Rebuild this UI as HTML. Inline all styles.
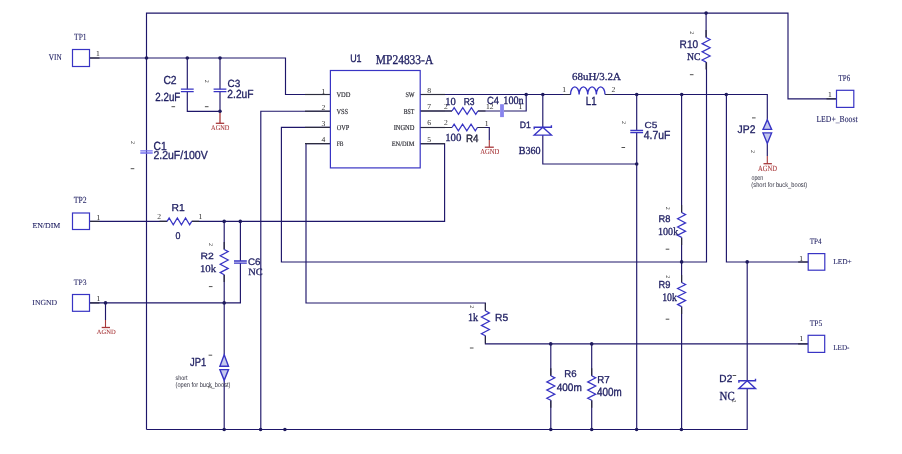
<!DOCTYPE html>
<html><head><meta charset="utf-8"><style>
html,body{margin:0;padding:0;background:#ffffff;overflow:hidden;}
svg{display:block;will-change:transform;text-rendering:geometricPrecision;}
</style></head><body>
<svg width="902" height="454" viewBox="0 0 902 454">
<rect width="902" height="454" fill="#ffffff"/>
<path d="M146.5,429.5V13.1H788V98.8H836.5" fill="none" stroke="#1e166a" stroke-width="1.15" stroke-linecap="butt" stroke-linejoin="miter"/>
<path d="M146.5,429.5H747.2V388.5" fill="none" stroke="#1e166a" stroke-width="1.15" stroke-linecap="butt" stroke-linejoin="miter"/>
<path d="M89.5,58H285.5V94.5H330.4" fill="none" stroke="#1e166a" stroke-width="1.15" stroke-linecap="butt" stroke-linejoin="miter"/>
<path d="M187.3,58V89.2M187.3,91.7V111.3H220" fill="none" stroke="#1e166a" stroke-width="1.15" stroke-linecap="butt" stroke-linejoin="miter"/>
<path d="M220,58V89.2M220,91.7V111.3" fill="none" stroke="#1e166a" stroke-width="1.15" stroke-linecap="butt" stroke-linejoin="miter"/>
<path d="M220,111.3V123.3" fill="none" stroke="#a8383a" stroke-width="1.3" stroke-linecap="butt" stroke-linejoin="miter"/>
<path d="M215.8,123.3H224.2" fill="none" stroke="#a8383a" stroke-width="1.3" stroke-linecap="butt" stroke-linejoin="miter"/>
<path d="M330.4,111.2H260.8V429.5" fill="none" stroke="#1e166a" stroke-width="1.15" stroke-linecap="butt" stroke-linejoin="miter"/>
<path d="M330.4,127.4H281.4V262H706.5V62.2M706.1,37.5V13.1" fill="none" stroke="#1e166a" stroke-width="1.15" stroke-linecap="butt" stroke-linejoin="miter"/>
<path d="M330.4,143.6H306V303H485.4V310.8M485.4,335.8V343.9H808.1" fill="none" stroke="#1e166a" stroke-width="1.15" stroke-linecap="butt" stroke-linejoin="miter"/>
<path d="M420.2,143.7H444.6V221.4H191.7M167.1,221.4H89.5" fill="none" stroke="#1e166a" stroke-width="1.15" stroke-linecap="butt" stroke-linejoin="miter"/>
<path d="M224.2,221.4V249.5M224.2,274.7V354.7M224.2,380.3V429.5" fill="none" stroke="#1e166a" stroke-width="1.15" stroke-linecap="butt" stroke-linejoin="miter"/>
<path d="M240.4,221.4V261M240.4,263.1V302.9H89.5" fill="none" stroke="#1e166a" stroke-width="1.15" stroke-linecap="butt" stroke-linejoin="miter"/>
<path d="M105.5,302.9V320" fill="none" stroke="#1e166a" stroke-width="1.15" stroke-linecap="butt" stroke-linejoin="miter"/>
<path d="M105.5,320V327.5" fill="none" stroke="#a8383a" stroke-width="1.1" stroke-linecap="butt" stroke-linejoin="miter"/>
<path d="M101.7,327.5H110" fill="none" stroke="#a8383a" stroke-width="1.3" stroke-linecap="butt" stroke-linejoin="miter"/>
<path d="M420.2,94.5H570.5M605,94.5H767.3V119.7" fill="none" stroke="#1e166a" stroke-width="1.15" stroke-linecap="butt" stroke-linejoin="miter"/>
<path d="M420.2,111H452M477.9,111H500M504,111H526.2V94.5" fill="none" stroke="#1e166a" stroke-width="1.15" stroke-linecap="butt" stroke-linejoin="miter"/>
<path d="M420.2,127.5H452M477.4,127.5H489.3V140" fill="none" stroke="#1e166a" stroke-width="1.15" stroke-linecap="butt" stroke-linejoin="miter"/>
<path d="M489.3,140V147.2" fill="none" stroke="#a8383a" stroke-width="1.1" stroke-linecap="butt" stroke-linejoin="miter"/>
<path d="M484.8,147.2H493.8" fill="none" stroke="#a8383a" stroke-width="1.3" stroke-linecap="butt" stroke-linejoin="miter"/>
<path d="M542.8,94.5V127.2M542.8,135.1V164H636.7" fill="none" stroke="#1e166a" stroke-width="1.15" stroke-linecap="butt" stroke-linejoin="miter"/>
<path d="M636.7,94.5V130.3M636.7,132.5V429.5" fill="none" stroke="#1e166a" stroke-width="1.15" stroke-linecap="butt" stroke-linejoin="miter"/>
<path d="M681.6,94.5V212.5M681.6,237.4V282.5M681.6,306.6V429.5" fill="none" stroke="#1e166a" stroke-width="1.15" stroke-linecap="butt" stroke-linejoin="miter"/>
<path d="M726.4,94.5V262H808.2" fill="none" stroke="#1e166a" stroke-width="1.15" stroke-linecap="butt" stroke-linejoin="miter"/>
<path d="M747.2,262V380.8" fill="none" stroke="#1e166a" stroke-width="1.15" stroke-linecap="butt" stroke-linejoin="miter"/>
<path d="M767.3,143.5V156" fill="none" stroke="#1e166a" stroke-width="1.15" stroke-linecap="butt" stroke-linejoin="miter"/>
<path d="M767.3,156V163.7" fill="none" stroke="#a8383a" stroke-width="1.1" stroke-linecap="butt" stroke-linejoin="miter"/>
<path d="M763.5,163.7H771.9" fill="none" stroke="#a8383a" stroke-width="1.3" stroke-linecap="butt" stroke-linejoin="miter"/>
<path d="M550.8,343.9V375.8M550.8,400.3V429.5" fill="none" stroke="#1e166a" stroke-width="1.15" stroke-linecap="butt" stroke-linejoin="miter"/>
<path d="M591.7,343.9V375.8M591.7,400.3V429.5" fill="none" stroke="#1e166a" stroke-width="1.15" stroke-linecap="butt" stroke-linejoin="miter"/>
<path d="M305,94.5H330.4" fill="none" stroke="#2b2b3e" stroke-width="1.15" stroke-linecap="butt" stroke-linejoin="miter"/>
<path d="M305,111.2H330.4" fill="none" stroke="#2b2b3e" stroke-width="1.15" stroke-linecap="butt" stroke-linejoin="miter"/>
<path d="M305,127.4H330.4" fill="none" stroke="#2b2b3e" stroke-width="1.15" stroke-linecap="butt" stroke-linejoin="miter"/>
<path d="M305,143.6H330.4" fill="none" stroke="#2b2b3e" stroke-width="1.15" stroke-linecap="butt" stroke-linejoin="miter"/>
<path d="M420.2,94.5H445" fill="none" stroke="#2b2b3e" stroke-width="1.15" stroke-linecap="butt" stroke-linejoin="miter"/>
<path d="M420.2,111H445" fill="none" stroke="#2b2b3e" stroke-width="1.15" stroke-linecap="butt" stroke-linejoin="miter"/>
<path d="M420.2,127.5H445" fill="none" stroke="#2b2b3e" stroke-width="1.15" stroke-linecap="butt" stroke-linejoin="miter"/>
<path d="M420.2,143.7H445" fill="none" stroke="#2b2b3e" stroke-width="1.15" stroke-linecap="butt" stroke-linejoin="miter"/>
<path d="M445,111H452M477.9,111H485.5M445,127.5H452M477.4,127.5H485" fill="none" stroke="#2b2b3e" stroke-width="1.15" stroke-linecap="butt" stroke-linejoin="miter"/>
<path d="M159.6,221.4H167.1M191.7,221.4H199.2" fill="none" stroke="#2b2b3e" stroke-width="1.15" stroke-linecap="butt" stroke-linejoin="miter"/>
<path d="M706.1,30V37.5" fill="none" stroke="#2b2b3e" stroke-width="1.15" stroke-linecap="butt" stroke-linejoin="miter"/>
<path d="M706.1,62.1V69.6" fill="none" stroke="#2b2b3e" stroke-width="1.15" stroke-linecap="butt" stroke-linejoin="miter"/>
<path d="M681.6,205V212.5" fill="none" stroke="#2b2b3e" stroke-width="1.15" stroke-linecap="butt" stroke-linejoin="miter"/>
<path d="M681.6,237.4V245" fill="none" stroke="#2b2b3e" stroke-width="1.15" stroke-linecap="butt" stroke-linejoin="miter"/>
<path d="M681.6,275V282.5" fill="none" stroke="#2b2b3e" stroke-width="1.15" stroke-linecap="butt" stroke-linejoin="miter"/>
<path d="M681.6,306.6V314" fill="none" stroke="#2b2b3e" stroke-width="1.15" stroke-linecap="butt" stroke-linejoin="miter"/>
<path d="M224.2,242V249.5" fill="none" stroke="#2b2b3e" stroke-width="1.15" stroke-linecap="butt" stroke-linejoin="miter"/>
<path d="M224.2,274.7V282" fill="none" stroke="#2b2b3e" stroke-width="1.15" stroke-linecap="butt" stroke-linejoin="miter"/>
<path d="M485.4,303.3V310.8" fill="none" stroke="#2b2b3e" stroke-width="1.15" stroke-linecap="butt" stroke-linejoin="miter"/>
<path d="M485.4,335.8V343.5" fill="none" stroke="#2b2b3e" stroke-width="1.15" stroke-linecap="butt" stroke-linejoin="miter"/>
<path d="M550.8,368.3V375.8" fill="none" stroke="#2b2b3e" stroke-width="1.15" stroke-linecap="butt" stroke-linejoin="miter"/>
<path d="M550.8,400.3V407.8" fill="none" stroke="#2b2b3e" stroke-width="1.15" stroke-linecap="butt" stroke-linejoin="miter"/>
<path d="M591.7,368.3V375.8" fill="none" stroke="#2b2b3e" stroke-width="1.15" stroke-linecap="butt" stroke-linejoin="miter"/>
<path d="M591.7,400.3V407.8" fill="none" stroke="#2b2b3e" stroke-width="1.15" stroke-linecap="butt" stroke-linejoin="miter"/>
<path d="M89.5,58H99.5" fill="none" stroke="#2b2b3e" stroke-width="1.15" stroke-linecap="butt" stroke-linejoin="miter"/>
<path d="M89.5,221.4H99.5" fill="none" stroke="#2b2b3e" stroke-width="1.15" stroke-linecap="butt" stroke-linejoin="miter"/>
<path d="M89.5,302.9H99.5" fill="none" stroke="#2b2b3e" stroke-width="1.15" stroke-linecap="butt" stroke-linejoin="miter"/>
<path d="M826.5,98.8H836.5" fill="none" stroke="#2b2b3e" stroke-width="1.15" stroke-linecap="butt" stroke-linejoin="miter"/>
<path d="M798.2,262H808.2" fill="none" stroke="#2b2b3e" stroke-width="1.15" stroke-linecap="butt" stroke-linejoin="miter"/>
<path d="M798.1,343.9H808.1" fill="none" stroke="#2b2b3e" stroke-width="1.15" stroke-linecap="butt" stroke-linejoin="miter"/>
<path d="M563,94.5H570.5M605,94.5H612.5" fill="none" stroke="#2b2b3e" stroke-width="1.15" stroke-linecap="butt" stroke-linejoin="miter"/>
<rect x="72.5" y="49.5" width="17.0" height="17.0" fill="none" stroke="#3834c4" stroke-width="1.2"/>
<rect x="72.5" y="213" width="17.0" height="16.5" fill="none" stroke="#3834c4" stroke-width="1.2"/>
<rect x="72.5" y="294.5" width="17.0" height="16.80000000000001" fill="none" stroke="#3834c4" stroke-width="1.2"/>
<rect x="836.5" y="90.3" width="17.299999999999955" height="17.10000000000001" fill="none" stroke="#3834c4" stroke-width="1.2"/>
<rect x="808.2" y="253.6" width="16.59999999999991" height="16.599999999999994" fill="none" stroke="#3834c4" stroke-width="1.2"/>
<rect x="808.1" y="335.3" width="16.600000000000023" height="17.099999999999966" fill="none" stroke="#3834c4" stroke-width="1.2"/>
<rect x="330.4" y="70.5" width="89.80000000000001" height="97.4" fill="none" stroke="#3834c4" stroke-width="1.2"/>
<path d="M180.9,89.2H193.70000000000002M180.9,91.7H193.70000000000002" fill="none" stroke="#3834c4" stroke-width="1.3" stroke-linecap="butt" stroke-linejoin="miter"/>
<path d="M213.6,89.2H226.4M213.6,91.7H226.4" fill="none" stroke="#3834c4" stroke-width="1.3" stroke-linecap="butt" stroke-linejoin="miter"/>
<path d="M140.3,150.8H152.7M140.3,153H152.7" fill="none" stroke="#7470f0" stroke-width="1.3" stroke-linecap="butt" stroke-linejoin="miter"/>
<path d="M234.0,261H246.8M234.0,263.1H246.8" fill="none" stroke="#3834c4" stroke-width="1.3" stroke-linecap="butt" stroke-linejoin="miter"/>
<path d="M630.3000000000001,130.3H643.1M630.3000000000001,132.5H643.1" fill="none" stroke="#3834c4" stroke-width="1.3" stroke-linecap="butt" stroke-linejoin="miter"/>
<rect x="500.1" y="104.2" width="3.8" height="12.9" fill="#8884ee"/>
<polyline points="167.10,221.40 169.15,218.00 173.25,224.80 177.35,218.00 181.45,224.80 185.55,218.00 189.65,224.80 191.70,221.40" fill="none" stroke="#3834c4" stroke-width="1.25" stroke-linejoin="miter"/>
<polyline points="452.00,111.00 454.16,107.60 458.48,114.40 462.79,107.60 467.11,114.40 471.43,107.60 475.74,114.40 477.90,111.00" fill="none" stroke="#3834c4" stroke-width="1.25" stroke-linejoin="miter"/>
<polyline points="452.00,127.50 454.12,124.10 458.35,130.90 462.58,124.10 466.82,130.90 471.05,124.10 475.28,130.90 477.40,127.50" fill="none" stroke="#3834c4" stroke-width="1.25" stroke-linejoin="miter"/>
<polyline points="706.10,37.50 710.10,39.55 702.10,43.65 710.10,47.75 702.10,51.85 710.10,55.95 702.10,60.05 706.10,62.10" fill="none" stroke="#3834c4" stroke-width="1.25" stroke-linejoin="miter"/>
<polyline points="681.60,212.50 685.60,214.57 677.60,218.72 685.60,222.88 677.60,227.02 685.60,231.17 677.60,235.32 681.60,237.40" fill="none" stroke="#3834c4" stroke-width="1.25" stroke-linejoin="miter"/>
<polyline points="681.60,282.50 685.60,284.51 677.60,288.52 685.60,292.54 677.60,296.56 685.60,300.57 677.60,304.59 681.60,306.60" fill="none" stroke="#3834c4" stroke-width="1.25" stroke-linejoin="miter"/>
<polyline points="224.20,249.50 228.20,251.60 220.20,255.80 228.20,260.00 220.20,264.20 228.20,268.40 220.20,272.60 224.20,274.70" fill="none" stroke="#3834c4" stroke-width="1.25" stroke-linejoin="miter"/>
<polyline points="485.40,310.80 489.40,312.88 481.40,317.05 489.40,321.22 481.40,325.38 489.40,329.55 481.40,333.72 485.40,335.80" fill="none" stroke="#3834c4" stroke-width="1.25" stroke-linejoin="miter"/>
<polyline points="550.80,375.80 554.80,377.84 546.80,381.93 554.80,386.01 546.80,390.09 554.80,394.18 546.80,398.26 550.80,400.30" fill="none" stroke="#3834c4" stroke-width="1.25" stroke-linejoin="miter"/>
<polyline points="591.70,375.80 595.70,377.84 587.70,381.93 595.70,386.01 587.70,390.09 595.70,394.18 587.70,398.26 591.70,400.30" fill="none" stroke="#3834c4" stroke-width="1.25" stroke-linejoin="miter"/>
<path d="M570.5,94.5 a4.312,7.60 0 0 1 8.625,0 a4.312,7.60 0 0 1 8.625,0 a4.312,7.60 0 0 1 8.625,0 a4.312,7.60 0 0 1 8.625,0" fill="none" stroke="#3834c4" stroke-width="1.4" stroke-linecap="butt" stroke-linejoin="miter"/>
<path d="M542.8,127.2 L534.1999999999999,135.1 H551.4 Z" fill="none" stroke="#3834c4" stroke-width="1.4" stroke-linejoin="miter"/>
<path d="M534.1999999999999,129.2V127.2H551.4V125.2" fill="none" stroke="#3834c4" stroke-width="1.4" stroke-linecap="butt" stroke-linejoin="miter"/>
<path d="M747.2,380.8 L738.9000000000001,388.5 H755.5 Z" fill="none" stroke="#3834c4" stroke-width="1.4" stroke-linejoin="miter"/>
<path d="M738.9000000000001,382.8V380.8H755.5V378.8" fill="none" stroke="#3834c4" stroke-width="1.4" stroke-linecap="butt" stroke-linejoin="miter"/>
<path d="M224.2,354.7 L219.89999999999998,366.3 H228.5 Z" fill="#c4c8ee" stroke="#3834c4" stroke-width="1.4"/>
<path d="M219.89999999999998,369.6 H228.5 L224.2,380.3 Z" fill="#c4c8ee" stroke="#3834c4" stroke-width="1.4"/>
<path d="M767.3,119.7 L763.0,129.4 H771.5999999999999 Z" fill="#c4c8ee" stroke="#3834c4" stroke-width="1.4"/>
<path d="M763.0,132.9 H771.5999999999999 L767.3,143.5 Z" fill="#c4c8ee" stroke="#3834c4" stroke-width="1.4"/>
<circle cx="146.5" cy="58" r="1.8" fill="#1e1a5e"/>
<circle cx="187.3" cy="58" r="1.8" fill="#1e1a5e"/>
<circle cx="220" cy="58" r="1.8" fill="#1e1a5e"/>
<circle cx="220" cy="111.3" r="1.8" fill="#1e1a5e"/>
<circle cx="105.5" cy="302.9" r="1.8" fill="#1e1a5e"/>
<circle cx="224.2" cy="221.4" r="1.8" fill="#1e1a5e"/>
<circle cx="240.3" cy="221.4" r="1.8" fill="#1e1a5e"/>
<circle cx="224.2" cy="302.9" r="1.8" fill="#1e1a5e"/>
<circle cx="224.2" cy="429.5" r="1.8" fill="#1e1a5e"/>
<circle cx="260.6" cy="429.5" r="1.8" fill="#1e1a5e"/>
<circle cx="284.9" cy="429.5" r="1.8" fill="#1e1a5e"/>
<circle cx="526.2" cy="94.5" r="1.8" fill="#1e1a5e"/>
<circle cx="542.8" cy="94.5" r="1.8" fill="#1e1a5e"/>
<circle cx="636.7" cy="94.5" r="1.8" fill="#1e1a5e"/>
<circle cx="681.7" cy="94.5" r="1.8" fill="#1e1a5e"/>
<circle cx="726.3" cy="94.5" r="1.8" fill="#1e1a5e"/>
<circle cx="706.1" cy="13.1" r="1.8" fill="#1e1a5e"/>
<circle cx="636.7" cy="164" r="1.8" fill="#1e1a5e"/>
<circle cx="681.6" cy="261.9" r="1.8" fill="#1e1a5e"/>
<circle cx="747.2" cy="261.9" r="1.8" fill="#1e1a5e"/>
<circle cx="550.7" cy="343.9" r="1.8" fill="#1e1a5e"/>
<circle cx="591.7" cy="343.9" r="1.8" fill="#1e1a5e"/>
<circle cx="550.8" cy="429.5" r="1.8" fill="#1e1a5e"/>
<circle cx="591.7" cy="429.5" r="1.8" fill="#1e1a5e"/>
<circle cx="636.6" cy="429.5" r="1.8" fill="#1e1a5e"/>
<circle cx="681.4" cy="429.5" r="1.8" fill="#1e1a5e"/>
<text id="t0" transform="translate(350.13,62.40) scale(0.828,1)" font-family='"Liberation Sans", sans-serif' font-size="10.77" fill="#1f1f62" stroke="#1f1f62" stroke-width="0.362">U1</text>
<text id="t1" transform="translate(375.85,64.10) scale(0.855,1)" font-family='"Liberation Serif", serif' font-size="13.41" fill="#1f1f62" stroke="#1f1f62" stroke-width="0.351">MP24833-A</text>
<text id="t2" transform="translate(163.38,84.10) scale(0.885,1)" font-family='"Liberation Sans", sans-serif' font-size="11.69" fill="#1f1f62" stroke="#1f1f62" stroke-width="0.339">C2</text>
<text id="t3" transform="translate(155.36,100.70) scale(0.822,1)" font-family='"Liberation Sans", sans-serif' font-size="11.89" fill="#1f1f62" stroke="#1f1f62" stroke-width="0.365">2.2uF</text>
<text id="t4" transform="translate(227.58,87.40) scale(0.966,1)" font-family='"Liberation Sans", sans-serif' font-size="10.39" fill="#1f1f62" stroke="#1f1f62" stroke-width="0.310">C3</text>
<text id="t5" transform="translate(227.34,97.90) scale(0.873,1)" font-family='"Liberation Sans", sans-serif' font-size="11.75" fill="#1f1f62" stroke="#1f1f62" stroke-width="0.344">2.2uF</text>
<text id="t6" transform="translate(153.44,149.60) scale(0.872,1)" font-family='"Liberation Sans", sans-serif' font-size="11.82" fill="#1f1f62" stroke="#1f1f62" stroke-width="0.344">C1</text>
<text id="t7" transform="translate(153.40,159.10) scale(0.903,1)" font-family='"Liberation Sans", sans-serif' font-size="11.63" fill="#1f1f62" stroke="#1f1f62" stroke-width="0.332">2.2uF/100V</text>
<text id="t8" transform="translate(171.43,211.20) scale(1.023,1)" font-family='"Liberation Sans", sans-serif' font-size="10.08" fill="#1f1f62" stroke="#1f1f62" stroke-width="0.293">R1</text>
<text id="t9" transform="translate(175.44,239.10) scale(0.898,1)" font-family='"Liberation Sans", sans-serif' font-size="9.89" fill="#1f1f62" stroke="#1f1f62" stroke-width="0.334">0</text>
<text id="t10" transform="translate(200.41,259.40) scale(1.144,1)" font-family='"Liberation Sans", sans-serif' font-size="9.05" fill="#1f1f62" stroke="#1f1f62" stroke-width="0.262">R2</text>
<text id="t11" transform="translate(199.89,272.10) scale(1.034,1)" font-family='"Liberation Serif", serif' font-size="10.41" fill="#1f1f62" stroke="#1f1f62" stroke-width="0.290">10k</text>
<text id="t12" transform="translate(248.01,264.70) scale(1.031,1)" font-family='"Liberation Sans", sans-serif' font-size="9.50" fill="#1f1f62" stroke="#1f1f62" stroke-width="0.291">C6</text>
<text id="t13" transform="translate(248.22,274.60) scale(1.072,1)" font-family='"Liberation Serif", serif' font-size="9.71" fill="#1f1f62" stroke="#1f1f62" stroke-width="0.280">NC</text>
<text id="t14" transform="translate(190.03,365.90) scale(0.799,1)" font-family='"Liberation Sans", sans-serif' font-size="11.75" fill="#1f1f62" stroke="#1f1f62" stroke-width="0.375">JP1</text>
<text id="t15" transform="translate(463.63,104.90) scale(0.852,1)" font-family='"Liberation Sans", sans-serif' font-size="10.02" fill="#1f1f62" stroke="#1f1f62" stroke-width="0.352">R3</text>
<text id="t16" transform="translate(445.23,104.90) scale(0.983,1)" font-family='"Liberation Serif", serif' font-size="10.79" fill="#1f1f62" stroke="#1f1f62" stroke-width="0.305">10</text>
<text id="t17" transform="translate(487.03,104.40) scale(0.905,1)" font-family='"Liberation Sans", sans-serif' font-size="10.43" fill="#1f1f62" stroke="#1f1f62" stroke-width="0.331">C4</text>
<text id="t18" transform="translate(503.35,104.40) scale(0.895,1)" font-family='"Liberation Serif", serif' font-size="11.33" fill="#1f1f62" stroke="#1f1f62" stroke-width="0.335">100n</text>
<text id="t19" transform="translate(445.20,140.70) scale(0.996,1)" font-family='"Liberation Serif", serif' font-size="10.90" fill="#1f1f62" stroke="#1f1f62" stroke-width="0.301">100</text>
<text id="t20" transform="translate(466.00,141.70) scale(0.928,1)" font-family='"Liberation Sans", sans-serif' font-size="10.59" fill="#22223a" stroke="#22223a" stroke-width="0.323">R4</text>
<text id="t21" transform="translate(519.76,128.40) scale(0.930,1)" font-family='"Liberation Sans", sans-serif' font-size="9.35" fill="#1f1f62" stroke="#1f1f62" stroke-width="0.323">D1</text>
<text id="t22" transform="translate(518.68,154.20) scale(0.938,1)" font-family='"Liberation Serif", serif' font-size="10.75" fill="#1f1f62" stroke="#1f1f62" stroke-width="0.320">B360</text>
<text id="t23" transform="translate(572.01,80.20) scale(1.030,1)" font-family='"Liberation Serif", serif' font-size="10.62" fill="#1f1f62" stroke="#1f1f62" stroke-width="0.291">68uH/3.2A</text>
<text id="t24" transform="translate(585.81,104.60) scale(0.816,1)" font-family='"Liberation Sans", sans-serif' font-size="11.83" fill="#1f1f62" stroke="#1f1f62" stroke-width="0.368">L1</text>
<text id="t25" transform="translate(644.45,128.20) scale(1.147,1)" font-family='"Liberation Sans", sans-serif' font-size="8.79" fill="#1f1f62" stroke="#1f1f62" stroke-width="0.261">C5</text>
<text id="t26" transform="translate(643.74,138.50) scale(0.891,1)" font-family='"Liberation Sans", sans-serif' font-size="11.68" fill="#1f1f62" stroke="#1f1f62" stroke-width="0.337">4.7uF</text>
<text id="t27" transform="translate(737.62,132.80) scale(0.934,1)" font-family='"Liberation Sans", sans-serif' font-size="11.08" fill="#1f1f62" stroke="#1f1f62" stroke-width="0.321">JP2</text>
<text id="t28" transform="translate(679.59,47.90) scale(0.913,1)" font-family='"Liberation Sans", sans-serif' font-size="11.07" fill="#1f1f62" stroke="#1f1f62" stroke-width="0.328">R10</text>
<text id="t29" transform="translate(687.03,59.90) scale(0.956,1)" font-family='"Liberation Serif", serif' font-size="10.16" fill="#1f1f62" stroke="#1f1f62" stroke-width="0.314">NC</text>
<text id="t30" transform="translate(658.57,222.40) scale(0.953,1)" font-family='"Liberation Sans", sans-serif' font-size="9.72" fill="#1f1f62" stroke="#1f1f62" stroke-width="0.315">R8</text>
<text id="t31" transform="translate(658.04,234.90) scale(0.935,1)" font-family='"Liberation Serif", serif' font-size="10.77" fill="#1f1f62" stroke="#1f1f62" stroke-width="0.321">100k</text>
<text id="t32" transform="translate(658.57,288.20) scale(0.910,1)" font-family='"Liberation Sans", sans-serif' font-size="10.21" fill="#1f1f62" stroke="#1f1f62" stroke-width="0.330">R9</text>
<text id="t33" transform="translate(662.23,300.70) scale(0.863,1)" font-family='"Liberation Serif", serif' font-size="11.31" fill="#1f1f62" stroke="#1f1f62" stroke-width="0.348">10k</text>
<text id="t34" transform="translate(494.97,320.70) scale(1.000,1)" font-family='"Liberation Sans", sans-serif' font-size="10.27" fill="#1f1f62" stroke="#1f1f62" stroke-width="0.300">R5</text>
<text id="t35" transform="translate(467.98,321.20) scale(0.896,1)" font-family='"Liberation Serif", serif' font-size="11.31" fill="#1f1f62" stroke="#1f1f62" stroke-width="0.335">1k</text>
<text id="t36" transform="translate(564.22,377.40) scale(0.978,1)" font-family='"Liberation Sans", sans-serif' font-size="9.86" fill="#1f1f62" stroke="#1f1f62" stroke-width="0.307">R6</text>
<text id="t37" transform="translate(556.70,391.20) scale(0.938,1)" font-family='"Liberation Sans", sans-serif' font-size="10.71" fill="#1f1f62" stroke="#1f1f62" stroke-width="0.320">400m</text>
<text id="t38" transform="translate(597.27,382.90) scale(0.960,1)" font-family='"Liberation Sans", sans-serif' font-size="10.07" fill="#1f1f62" stroke="#1f1f62" stroke-width="0.313">R7</text>
<text id="t39" transform="translate(597.10,395.70) scale(0.827,1)" font-family='"Liberation Sans", sans-serif' font-size="11.93" fill="#1f1f62" stroke="#1f1f62" stroke-width="0.363">400m</text>
<text id="t40" transform="translate(719.37,381.90) scale(0.976,1)" font-family='"Liberation Sans", sans-serif' font-size="10.32" fill="#1f1f62" stroke="#1f1f62" stroke-width="0.307">D2</text>
<text id="t41" transform="translate(719.56,399.50) scale(0.883,1)" font-family='"Liberation Serif", serif' font-size="12.30" fill="#1f1f62" stroke="#1f1f62" stroke-width="0.340">NC</text>
<text id="t42" transform="translate(74.04,39.90) scale(0.795,1)" font-family='"Liberation Serif", serif' font-size="9.48" fill="#1f1f62" stroke="#1f1f62" stroke-width="0.101">TP1</text>
<text id="t43" transform="translate(48.75,59.90) scale(0.828,1)" font-family='"Liberation Serif", serif' font-size="8.74" fill="#1f1f62" stroke="#1f1f62" stroke-width="0.097">VIN</text>
<text id="t44" transform="translate(73.83,203.20) scale(0.830,1)" font-family='"Liberation Serif", serif' font-size="9.34" fill="#1f1f62" stroke="#1f1f62" stroke-width="0.096">TP2</text>
<text id="t45" transform="translate(32.41,228.20) scale(1.050,1)" font-family='"Liberation Serif", serif' font-size="7.47" fill="#1f1f62" stroke="#1f1f62" stroke-width="0.076">EN/DIM</text>
<text id="t46" transform="translate(73.83,285.20) scale(0.924,1)" font-family='"Liberation Serif", serif' font-size="8.20" fill="#1f1f62" stroke="#1f1f62" stroke-width="0.087">TP3</text>
<text id="t47" transform="translate(32.34,304.90) scale(0.996,1)" font-family='"Liberation Serif", serif' font-size="7.74" fill="#1f1f62" stroke="#1f1f62" stroke-width="0.080">INGND</text>
<text id="t48" transform="translate(838.59,80.70) scale(0.747,1)" font-family='"Liberation Serif", serif' font-size="9.28" fill="#1f1f62" stroke="#1f1f62" stroke-width="0.107">TP6</text>
<text id="t49" transform="translate(816.41,121.90) scale(0.831,1)" font-family='"Liberation Serif", serif' font-size="9.27" fill="#1f1f62" stroke="#1f1f62" stroke-width="0.096">LED+_Boost</text>
<text id="t50" transform="translate(809.64,243.60) scale(0.864,1)" font-family='"Liberation Serif", serif' font-size="8.29" fill="#1f1f62" stroke="#1f1f62" stroke-width="0.093">TP4</text>
<text id="t51" transform="translate(833.16,264.10) scale(0.983,1)" font-family='"Liberation Serif", serif' font-size="7.57" fill="#1f1f62" stroke="#1f1f62" stroke-width="0.081">LED+</text>
<text id="t52" transform="translate(809.64,326.20) scale(0.879,1)" font-family='"Liberation Serif", serif' font-size="8.54" fill="#1f1f62" stroke="#1f1f62" stroke-width="0.091">TP5</text>
<text id="t53" transform="translate(833.22,349.90) scale(0.918,1)" font-family='"Liberation Serif", serif' font-size="7.74" fill="#1f1f62" stroke="#1f1f62" stroke-width="0.087">LED-</text>
<text id="t54" transform="translate(211.12,129.90) scale(0.876,1)" font-family='"Liberation Serif", serif' font-size="7.22" fill="#a8383a" stroke="#a8383a" stroke-width="0.091">AGND</text>
<text id="t55" transform="translate(96.77,334.10) scale(1.003,1)" font-family='"Liberation Serif", serif' font-size="6.53" fill="#a8383a" stroke="#a8383a" stroke-width="0.080">AGND</text>
<text id="t56" transform="translate(480.22,153.60) scale(0.864,1)" font-family='"Liberation Serif", serif' font-size="7.66" fill="#a8383a" stroke="#a8383a" stroke-width="0.093">AGND</text>
<text id="t57" transform="translate(758.02,170.50) scale(0.823,1)" font-family='"Liberation Serif", serif' font-size="8.04" fill="#a8383a" stroke="#a8383a" stroke-width="0.097">AGND</text>
<text id="t58" transform="translate(336.40,96.90) scale(0.892,1)" font-family='"Liberation Serif", serif' font-size="7.22" fill="#2c2c34" stroke="#2c2c34" stroke-width="0.168">VDD</text>
<text id="t59" transform="translate(336.41,113.60) scale(0.831,1)" font-family='"Liberation Serif", serif' font-size="7.66" fill="#2c2c34" stroke="#2c2c34" stroke-width="0.180">VSS</text>
<text id="t60" transform="translate(336.65,129.80) scale(0.836,1)" font-family='"Liberation Serif", serif' font-size="7.60" fill="#2c2c34" stroke="#2c2c34" stroke-width="0.179">OVP</text>
<text id="t61" transform="translate(336.75,146.00) scale(0.803,1)" font-family='"Liberation Serif", serif' font-size="6.86" fill="#2c2c34" stroke="#2c2c34" stroke-width="0.187">FB</text>
<text id="t62" transform="translate(405.44,96.90) scale(0.852,1)" font-family='"Liberation Serif", serif' font-size="7.22" fill="#2c2c34" stroke="#2c2c34" stroke-width="0.176">SW</text>
<text id="t63" transform="translate(403.75,113.60) scale(0.750,1)" font-family='"Liberation Serif", serif' font-size="7.66" fill="#2c2c34" stroke="#2c2c34" stroke-width="0.200">BST</text>
<text id="t64" transform="translate(393.68,129.80) scale(0.847,1)" font-family='"Liberation Serif", serif' font-size="7.60" fill="#2c2c34" stroke="#2c2c34" stroke-width="0.177">INGND</text>
<text id="t65" transform="translate(391.64,146.00) scale(0.929,1)" font-family='"Liberation Serif", serif' font-size="6.86" fill="#2c2c34" stroke="#2c2c34" stroke-width="0.161">EN/DIM</text>
<text id="t66" transform="translate(751.49,179.90) scale(0.763,1)" font-family='"Liberation Sans", sans-serif' font-size="6.93" fill="#303040" stroke="#303040" stroke-width="0.000">open</text>
<text id="t67" transform="translate(751.36,186.90) scale(0.841,1)" font-family='"Liberation Sans", sans-serif' font-size="6.83" fill="#303040" stroke="#303040" stroke-width="0.000">(short for buck_boost)</text>
<text id="t68" transform="translate(175.42,379.70) scale(0.831,1)" font-family='"Liberation Sans", sans-serif' font-size="6.56" fill="#303040" stroke="#303040" stroke-width="0.000">short</text>
<text id="t69" transform="translate(175.57,386.90) scale(0.818,1)" font-family='"Liberation Sans", sans-serif' font-size="6.90" fill="#303040" stroke="#303040" stroke-width="0.000">(open for buck_boost)</text>
<text x="96" y="56" font-family='"Liberation Serif", serif' font-size="7.6" fill="#2a2a2a">1</text>
<text x="96.5" y="220" font-family='"Liberation Serif", serif' font-size="7.6" fill="#2a2a2a">1</text>
<text x="96.5" y="301" font-family='"Liberation Serif", serif' font-size="7.6" fill="#2a2a2a">1</text>
<text x="828" y="97" font-family='"Liberation Serif", serif' font-size="7.6" fill="#2a2a2a">1</text>
<text x="799.3" y="261" font-family='"Liberation Serif", serif' font-size="7.6" fill="#2a2a2a">1</text>
<text x="799.5" y="341" font-family='"Liberation Serif", serif' font-size="7.6" fill="#2a2a2a">1</text>
<text x="321.5" y="94" font-family='"Liberation Serif", serif' font-size="7.6" fill="#2a2a2a">1</text>
<text x="321.5" y="110" font-family='"Liberation Serif", serif' font-size="7.6" fill="#2a2a2a">2</text>
<text x="321.5" y="126" font-family='"Liberation Serif", serif' font-size="7.6" fill="#2a2a2a">3</text>
<text x="321.5" y="142" font-family='"Liberation Serif", serif' font-size="7.6" fill="#2a2a2a">4</text>
<text x="427.3" y="93" font-family='"Liberation Serif", serif' font-size="7.6" fill="#2a2a2a">8</text>
<text x="427.3" y="109" font-family='"Liberation Serif", serif' font-size="7.6" fill="#2a2a2a">7</text>
<text x="427.3" y="125" font-family='"Liberation Serif", serif' font-size="7.6" fill="#2a2a2a">6</text>
<text x="427.3" y="142" font-family='"Liberation Serif", serif' font-size="7.6" fill="#2a2a2a">5</text>
<text x="444" y="109" font-family='"Liberation Serif", serif' font-size="7.6" fill="#2a2a2a">2</text>
<text x="486" y="109" font-family='"Liberation Serif", serif' font-size="7.6" fill="#2a2a2a">12</text>
<text x="518.5" y="109" font-family='"Liberation Serif", serif' font-size="7.6" fill="#2a2a2a">1</text>
<text x="444" y="125" font-family='"Liberation Serif", serif' font-size="7.6" fill="#2a2a2a">2</text>
<text x="484.8" y="125.5" font-family='"Liberation Serif", serif' font-size="7.6" fill="#2a2a2a">1</text>
<text x="157.3" y="219" font-family='"Liberation Serif", serif' font-size="7.6" fill="#2a2a2a">2</text>
<text x="198.5" y="219" font-family='"Liberation Serif", serif' font-size="7.6" fill="#2a2a2a">1</text>
<text x="562.3" y="92" font-family='"Liberation Serif", serif' font-size="7.6" fill="#2a2a2a">1</text>
<text x="611.5" y="92" font-family='"Liberation Serif", serif' font-size="7.6" fill="#2a2a2a">2</text>
<path d="M171.5,106.7H175.10000000000002" fill="none" stroke="#3c3c3c" stroke-width="0.9" stroke-linecap="butt" stroke-linejoin="miter"/>
<path d="M204.89999999999998,106.7H208.5" fill="none" stroke="#3c3c3c" stroke-width="0.9" stroke-linecap="butt" stroke-linejoin="miter"/>
<path d="M130.7,168.7H134.3" fill="none" stroke="#3c3c3c" stroke-width="0.9" stroke-linecap="butt" stroke-linejoin="miter"/>
<path d="M208.89999999999998,286.6H212.5" fill="none" stroke="#3c3c3c" stroke-width="0.9" stroke-linecap="butt" stroke-linejoin="miter"/>
<path d="M665.7,249.2H669.3" fill="none" stroke="#3c3c3c" stroke-width="0.9" stroke-linecap="butt" stroke-linejoin="miter"/>
<path d="M665.7,319.2H669.3" fill="none" stroke="#3c3c3c" stroke-width="0.9" stroke-linecap="butt" stroke-linejoin="miter"/>
<path d="M469.9,348H473.5" fill="none" stroke="#3c3c3c" stroke-width="0.9" stroke-linecap="butt" stroke-linejoin="miter"/>
<path d="M689.9000000000001,74.7H693.5" fill="none" stroke="#3c3c3c" stroke-width="0.9" stroke-linecap="butt" stroke-linejoin="miter"/>
<path d="M621.5,147.5H625.0999999999999" fill="none" stroke="#3c3c3c" stroke-width="0.9" stroke-linecap="butt" stroke-linejoin="miter"/>
<path d="M752.0,117.9H755.5999999999999" fill="none" stroke="#3c3c3c" stroke-width="0.9" stroke-linecap="butt" stroke-linejoin="miter"/>
<path d="M208.6,355.2H212.20000000000002" fill="none" stroke="#3c3c3c" stroke-width="0.9" stroke-linecap="butt" stroke-linejoin="miter"/>
<path d="M732.6,375.5H736.1999999999999" fill="none" stroke="#3c3c3c" stroke-width="0.9" stroke-linecap="butt" stroke-linejoin="miter"/>
<text transform="translate(204.89999999999998,81.3) rotate(90)" text-anchor="middle" font-family='"Liberation Serif", serif' font-size="6" fill="#333333">2</text>
<text transform="translate(130.7,142.5) rotate(90)" text-anchor="middle" font-family='"Liberation Serif", serif' font-size="6" fill="#333333">2</text>
<text transform="translate(208.89999999999998,244.6) rotate(90)" text-anchor="middle" font-family='"Liberation Serif", serif' font-size="6" fill="#333333">2</text>
<text transform="translate(665.7,208.3) rotate(90)" text-anchor="middle" font-family='"Liberation Serif", serif' font-size="6" fill="#333333">2</text>
<text transform="translate(665.7,276.7) rotate(90)" text-anchor="middle" font-family='"Liberation Serif", serif' font-size="6" fill="#333333">2</text>
<text transform="translate(469.9,306.7) rotate(90)" text-anchor="middle" font-family='"Liberation Serif", serif' font-size="6" fill="#333333">2</text>
<text transform="translate(689.9000000000001,32.7) rotate(90)" text-anchor="middle" font-family='"Liberation Serif", serif' font-size="6" fill="#333333">2</text>
<text transform="translate(621.5,122.5) rotate(90)" text-anchor="middle" font-family='"Liberation Serif", serif' font-size="6" fill="#333333">2</text>
<text transform="translate(751.1,151.4) rotate(90)" text-anchor="middle" font-family='"Liberation Serif", serif' font-size="6" fill="#333333">2</text>
<text transform="translate(207.79999999999998,387) rotate(90)" text-anchor="middle" font-family='"Liberation Serif", serif' font-size="6" fill="#333333">2</text>
<text transform="translate(731.7,400.9) rotate(90)" text-anchor="middle" font-family='"Liberation Serif", serif' font-size="6" fill="#333333">2</text>
</svg>
</body></html>
